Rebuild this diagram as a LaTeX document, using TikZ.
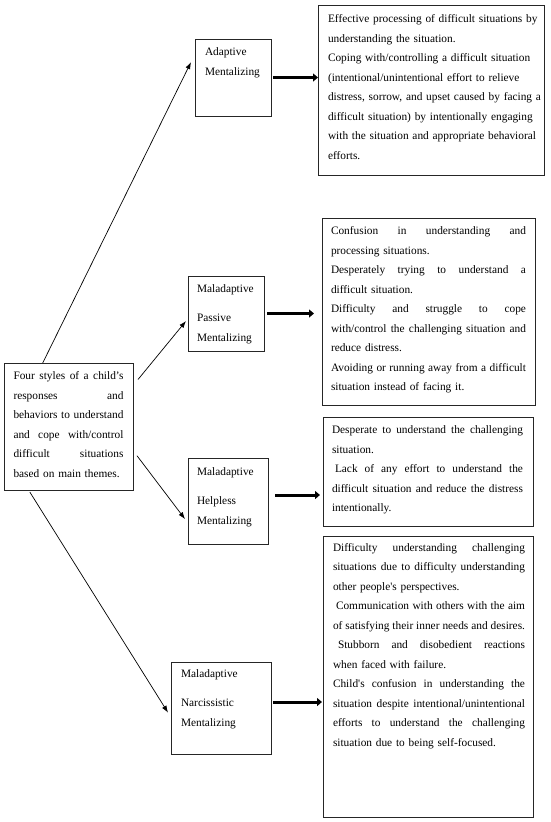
\documentclass[tikz,border=0pt]{standalone}
\usepackage{fontspec}
\setmainfont{Liberation Serif}
\newfontfamily\rawserif{Liberation Serif}
\usetikzlibrary{arrows.meta,calc}
\newlength{\fullw}
\newcommand{\fullline}[1]{\leavevmode\hbox to \fullw{\spaceskip=0.25em plus 1fil minus 0.08em\relax #1}}
\begin{document}
\begin{tikzpicture}[x=1pt,y=-1pt,
  frame/.style={draw=black!85, line width=0.9pt, inner sep=0pt, outer sep=0pt, anchor=north west},
  txt/.style={inner sep=0pt, outer sep=0pt, anchor=north west, align=left,
    font=\rawserif\fontsize{11.35}{19.5}\selectfont},
  thinarrow/.style={line width=0.7pt, -{Latex[length=7pt,width=5pt]}},
  thickarrow/.style={line width=3pt, -{Triangle[length=5pt,width=8pt]}}]
\useasboundingbox (0,0) rectangle (550,822);
\fill[white] (0,0) rectangle (550,822);

% frames
\node[frame, minimum width=226pt, minimum height=170pt] (b1) at (318,5) {};
\node[frame, minimum width=76pt, minimum height=77pt] (adapt) at (195,39) {};
\node[frame, minimum width=213pt, minimum height=187pt] (b2) at (322,218) {};
\node[frame, minimum width=76pt, minimum height=75pt] (pass) at (188,276) {};
\node[frame, minimum width=129pt, minimum height=127pt] (four) at (4,363) {};
\node[frame, minimum width=210pt, minimum height=109pt] (b3) at (323,417) {};
\node[frame, minimum width=80pt, minimum height=86pt] (help) at (188,458) {};
\node[frame, minimum width=210pt, minimum height=281pt] (b4) at (323,536) {};
\node[frame, minimum width=100pt, minimum height=92pt] (narc) at (171,662) {};

% texts
\node[txt, text width=216pt] (t1) at ($(b1.north west)+(10,4)$) {\strut Effective processing of difficult situations by\\
understanding the situation.\\
Coping with/controlling a difficult situation\\
(intentional/unintentional effort to relieve\\
distress, sorrow, and upset caused by facing a\\
difficult situation) by intentionally engaging\\
with the situation and appropriate behavioral\\
efforts.};

\node[txt] (tadapt) at ($(adapt.north west)+(10,3.3)$) {\strut Adaptive\\Mentalizing};

\node[txt, text width=195pt] (t2) at ($(b2.north west)+(9,3.3)$) {\setlength{\fullw}{195pt}\strut\fullline{Confusion in understanding and}\\
processing situations.\\
\fullline{Desperately trying to understand a}\\
difficult situation.\\
\fullline{Difficulty and struggle to cope}\\
\fullline{with/control the challenging situation and}\\
reduce distress.\\
\fullline{Avoiding or running away from a difficult}\\
situation instead of facing it.};

\node[txt] (tpass) at ($(pass.north west)+(9,3.3)$) {\strut Maladaptive\\[9.5pt]Passive\\Mentalizing};

\node[txt, text width=111pt] (tfour) at ($(four.north west)+(9.5,3.3)$) {\setlength{\fullw}{110pt}\strut\fullline{Four styles of a child’s}\\
\fullline{responses and}\\
\fullline{behaviors to understand}\\
\fullline{and cope with/control}\\
\fullline{difficult situations}\\
based on main themes.};

\node[txt, text width=191pt] (t3) at ($(b3.north west)+(9,3.3)$) {\setlength{\fullw}{191pt}\strut\fullline{Desperate to understand the challenging}\\
situation.\\
\fullline{\hspace*{3pt}Lack of any effort to understand the}\\
\fullline{difficult situation and reduce the distress}\\
intentionally.};

\node[txt] (thelp) at ($(help.north west)+(9,4.3)$) {\strut Maladaptive\\[9.5pt]Helpless\\Mentalizing};

\node[txt, text width=193pt] (t4) at ($(b4.north west)+(10,1.5)$) {\setlength{\fullw}{192pt}\strut\fullline{Difficulty understanding challenging}\\
\fullline{situations due to difficulty understanding}\\
other people's perspectives.\\
\fullline{\hspace*{3pt}Communication with others with the aim}\\
\fullline{of satisfying their inner needs and desires.}\\
\fullline{\hspace*{5pt}Stubborn and disobedient reactions}\\
when faced with failure.\\
\fullline{Child's confusion in understanding the}\\
\fullline{situation despite intentional/unintentional}\\
\fullline{efforts to understand the challenging}\\
situation due to being self-focused.};

\node[txt] (tnarc) at ($(narc.north west)+(10,2.3)$) {\strut Maladaptive\\[9.5pt]Narcissistic\\Mentalizing};

% thin arrows
\coordinate (s1) at ($(four.north west)!0.30!(four.north east)$);
\coordinate (e1) at ($(adapt.north west)!0.30!(adapt.south west)+(-4,0)$);
\coordinate (s2) at ($(four.north east)!0.13!(four.south east)+(5,0)$);
\coordinate (e2) at ($(pass.north west)!0.60!(pass.south west)+(-2,0)$);
\coordinate (s3) at ($(four.north east)!0.73!(four.south east)+(4,0)$);
\coordinate (e3) at ($(help.north west)!0.71!(help.south west)+(-3,0)$);
\coordinate (s4) at ($(four.south west)!0.20!(four.south east)+(0,2)$);
\coordinate (e4) at ($(narc.north west)!0.55!(narc.south west)+(-3,0)$);
\draw[thinarrow] (s1) -- (e1);
\draw[thinarrow] (s2) -- (e2);
\draw[thinarrow] (s3) -- (e3);
\draw[thinarrow] (s4) -- (e4);

% thick arrows
\coordinate (a1) at ($(adapt.east)+(2,0)$);
\coordinate (a2) at ($(pass.east)+(3,0)$);
\coordinate (a3) at ($(help.east)+(7,-6)$);
\coordinate (a4) at ($(narc.east)+(2,-6)$);
\draw[thickarrow] (a1) -- (a1 -| b1.west);
\draw[thickarrow, shorten >=8pt] (a2) -- (a2 -| b2.west);
\draw[thickarrow, shorten >=3pt] (a3) -- (a3 -| b3.west);
\draw[thickarrow, shorten >=1pt] (a4) -- (a4 -| b4.west);
\end{tikzpicture}
\end{document}
